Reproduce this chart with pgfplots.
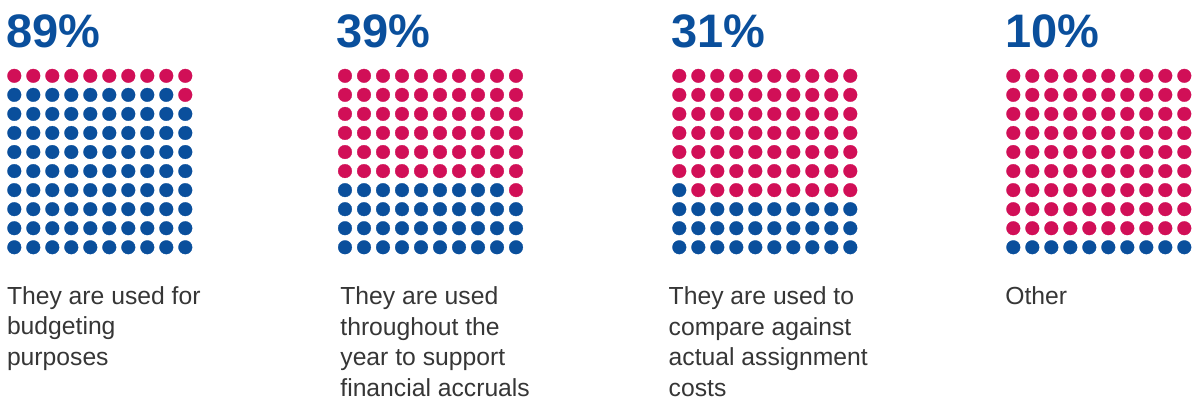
\documentclass[border=0pt]{standalone}
\usepackage{pgfplots}
\pgfplotsset{compat=1.18}
\usepackage{fontspec}
\setmainfont{Liberation Sans}
\definecolor{wblue}{HTML}{0A4F9C}
\definecolor{wred}{HTML}{D10F57}
\definecolor{wtext}{HTML}{363636}
\pgfplotsset{
  waffle/.style={
    scale only axis, width=190pt, height=190.5pt,
    xmin=-0.5, xmax=9.5, ymin=-0.5, ymax=9.5,
    hide axis, clip=false, anchor=south west,
  },
  bdot/.style={only marks, mark=*, mark size=6.85pt, color=wblue, mark options={solid, draw=wblue, fill=wblue, line width=0.3pt}},
  rdot/.style={only marks, mark=*, mark size=6.85pt, color=wred, mark options={solid, draw=wred, fill=wred, line width=0.3pt}},
}
\begin{document}
\begin{tikzpicture}
\useasboundingbox (0pt,0pt) rectangle (1195pt,401pt);
% ---------- panel 1: 89% ----------
\begin{axis}[waffle, at={(4.8pt,144.2pt)}]
\addplot[bdot] coordinates {
(0,0) (1,0) (2,0) (3,0) (4,0) (5,0) (6,0) (7,0) (8,0) (9,0)
(0,1) (1,1) (2,1) (3,1) (4,1) (5,1) (6,1) (7,1) (8,1) (9,1)
(0,2) (1,2) (2,2) (3,2) (4,2) (5,2) (6,2) (7,2) (8,2) (9,2)
(0,3) (1,3) (2,3) (3,3) (4,3) (5,3) (6,3) (7,3) (8,3) (9,3)
(0,4) (1,4) (2,4) (3,4) (4,4) (5,4) (6,4) (7,4) (8,4) (9,4)
(0,5) (1,5) (2,5) (3,5) (4,5) (5,5) (6,5) (7,5) (8,5) (9,5)
(0,6) (1,6) (2,6) (3,6) (4,6) (5,6) (6,6) (7,6) (8,6) (9,6)
(0,7) (1,7) (2,7) (3,7) (4,7) (5,7) (6,7) (7,7) (8,7) (9,7)
(0,8) (1,8) (2,8) (3,8) (4,8) (5,8) (6,8) (7,8) (8,8)
};
\addplot[rdot] coordinates {
(9,8)
(0,9) (1,9) (2,9) (3,9) (4,9) (5,9) (6,9) (7,9) (8,9) (9,9)
};
\end{axis}
% ---------- panel 2: 39% ----------
\begin{axis}[waffle, at={(335.5pt,144.2pt)}]
\addplot[bdot] coordinates {
(0,0) (1,0) (2,0) (3,0) (4,0) (5,0) (6,0) (7,0) (8,0) (9,0)
(0,1) (1,1) (2,1) (3,1) (4,1) (5,1) (6,1) (7,1) (8,1) (9,1)
(0,2) (1,2) (2,2) (3,2) (4,2) (5,2) (6,2) (7,2) (8,2) (9,2)
(0,3) (1,3) (2,3) (3,3) (4,3) (5,3) (6,3) (7,3) (8,3)
};
\addplot[rdot] coordinates {
(9,3)
(0,4) (1,4) (2,4) (3,4) (4,4) (5,4) (6,4) (7,4) (8,4) (9,4)
(0,5) (1,5) (2,5) (3,5) (4,5) (5,5) (6,5) (7,5) (8,5) (9,5)
(0,6) (1,6) (2,6) (3,6) (4,6) (5,6) (6,6) (7,6) (8,6) (9,6)
(0,7) (1,7) (2,7) (3,7) (4,7) (5,7) (6,7) (7,7) (8,7) (9,7)
(0,8) (1,8) (2,8) (3,8) (4,8) (5,8) (6,8) (7,8) (8,8) (9,8)
(0,9) (1,9) (2,9) (3,9) (4,9) (5,9) (6,9) (7,9) (8,9) (9,9)
};
\end{axis}
% ---------- panel 3: 31% ----------
\begin{axis}[waffle, at={(669.8pt,144.2pt)}]
\addplot[bdot] coordinates {
(0,0) (1,0) (2,0) (3,0) (4,0) (5,0) (6,0) (7,0) (8,0) (9,0)
(0,1) (1,1) (2,1) (3,1) (4,1) (5,1) (6,1) (7,1) (8,1) (9,1)
(0,2) (1,2) (2,2) (3,2) (4,2) (5,2) (6,2) (7,2) (8,2) (9,2)
(0,3)
};
\addplot[rdot] coordinates {
(1,3) (2,3) (3,3) (4,3) (5,3) (6,3) (7,3) (8,3) (9,3)
(0,4) (1,4) (2,4) (3,4) (4,4) (5,4) (6,4) (7,4) (8,4) (9,4)
(0,5) (1,5) (2,5) (3,5) (4,5) (5,5) (6,5) (7,5) (8,5) (9,5)
(0,6) (1,6) (2,6) (3,6) (4,6) (5,6) (6,6) (7,6) (8,6) (9,6)
(0,7) (1,7) (2,7) (3,7) (4,7) (5,7) (6,7) (7,7) (8,7) (9,7)
(0,8) (1,8) (2,8) (3,8) (4,8) (5,8) (6,8) (7,8) (8,8) (9,8)
(0,9) (1,9) (2,9) (3,9) (4,9) (5,9) (6,9) (7,9) (8,9) (9,9)
};
\end{axis}
% ---------- panel 4: 10% ----------
\begin{axis}[waffle, at={(1003.8pt,144.2pt)}]
\addplot[bdot] coordinates {
(0,0) (1,0) (2,0) (3,0) (4,0) (5,0) (6,0) (7,0) (8,0) (9,0)
};
\addplot[rdot] coordinates {
(0,1) (1,1) (2,1) (3,1) (4,1) (5,1) (6,1) (7,1) (8,1) (9,1)
(0,2) (1,2) (2,2) (3,2) (4,2) (5,2) (6,2) (7,2) (8,2) (9,2)
(0,3) (1,3) (2,3) (3,3) (4,3) (5,3) (6,3) (7,3) (8,3) (9,3)
(0,4) (1,4) (2,4) (3,4) (4,4) (5,4) (6,4) (7,4) (8,4) (9,4)
(0,5) (1,5) (2,5) (3,5) (4,5) (5,5) (6,5) (7,5) (8,5) (9,5)
(0,6) (1,6) (2,6) (3,6) (4,6) (5,6) (6,6) (7,6) (8,6) (9,6)
(0,7) (1,7) (2,7) (3,7) (4,7) (5,7) (6,7) (7,7) (8,7) (9,7)
(0,8) (1,8) (2,8) (3,8) (4,8) (5,8) (6,8) (7,8) (8,8) (9,8)
(0,9) (1,9) (2,9) (3,9) (4,9) (5,9) (6,9) (7,9) (8,9) (9,9)
};
\end{axis}
% ---------- titles ----------
\begin{scope}[every node/.style={anchor=base west, inner sep=0pt, text=wblue, font=\fontsize{47}{50}\selectfont\bfseries}]
\node at (6.5pt,353.3pt) {89\%};
\node at (336.5pt,353.3pt) {39\%};
\node at (671pt,353.3pt) {31\%};
\node at (1005pt,353.3pt) {10\%};
\end{scope}
% ---------- descriptions ----------
\begin{scope}[every node/.style={anchor=base west, inner sep=0pt, text=wtext, font=\fontsize{24.7}{30}\selectfont}]
\node at (6.8pt,96pt) {They are used for};
\node at (6.8pt,66pt) {budgeting};
\node at (6.8pt,35pt) {purposes};
\node at (340.2pt,96pt) {They are used};
\node at (340.2pt,65pt) {throughout the};
\node at (340.2pt,35pt) {year to support};
\node at (340.2pt,4.3pt) {financial accruals};
\node at (668.5pt,96pt) {They are used to};
\node at (668.5pt,65pt) {compare against};
\node at (668.5pt,35pt) {actual assignment};
\node at (668.5pt,4.3pt) {costs};
\node at (1005.2pt,96pt) {Other};
\end{scope}
\end{tikzpicture}
\end{document}
